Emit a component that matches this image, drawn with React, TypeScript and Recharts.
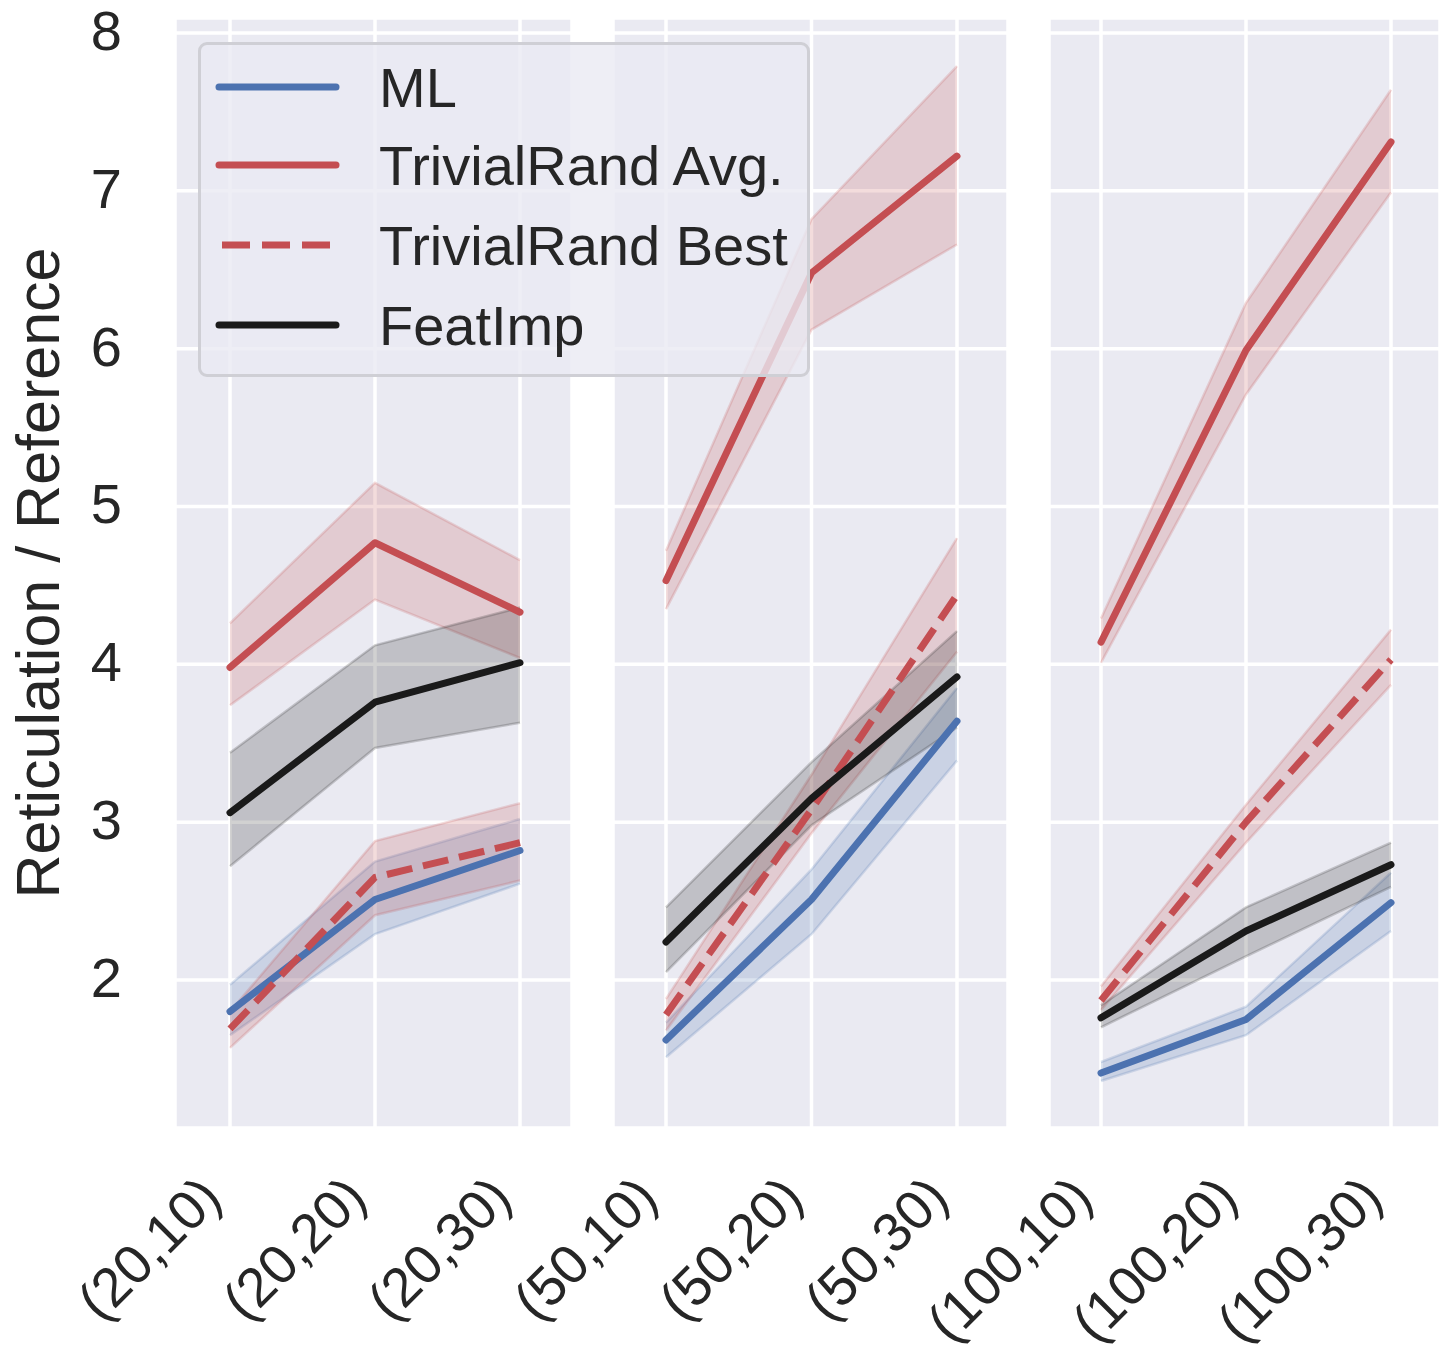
import React from 'react';
import { ComposedChart, Line, Area, XAxis, YAxis, CartesianGrid, Label } from 'recharts';

// categories, one array per panel
const GROUP_20 = ['(20,10)', '(20,20)', '(20,30)'];
const GROUP_50 = ['(50,10)', '(50,20)', '(50,30)'];
const GROUP_100 = ['(100,10)', '(100,20)', '(100,30)'];

// series values, 9 points each (3 panels x 3)
const ML_MEAN = [1.80, 2.51, 2.82, 1.62, 2.51, 3.64, 1.41, 1.75, 2.49];
const ML_LO = [1.65, 2.29, 2.61, 1.51, 2.29, 3.39, 1.36, 1.65, 2.31];
const ML_HI = [1.97, 2.75, 3.02, 1.73, 2.70, 3.85, 1.48, 1.83, 2.68];

const AVG_MEAN = [3.98, 4.77, 4.33, 4.53, 6.48, 7.22, 4.14, 5.99, 7.31];
const AVG_LO = [3.74, 4.41, 4.04, 4.35, 6.12, 6.66, 4.01, 5.71, 6.99];
const AVG_HI = [4.26, 5.15, 4.66, 4.72, 6.82, 7.79, 4.29, 6.29, 7.64];

const BEST_MEAN = [1.69, 2.65, 2.87, 1.78, 3.08, 4.44, 1.87, 3.00, 4.03];
const BEST_LO = [1.57, 2.41, 2.63, 1.68, 2.93, 4.08, 1.81, 2.87, 3.87];
const BEST_HI = [1.80, 2.88, 3.12, 1.88, 3.30, 4.80, 1.96, 3.11, 4.22];

const FEAT_MEAN = [3.06, 3.76, 4.01, 2.24, 3.15, 3.92, 1.76, 2.31, 2.73];
const FEAT_LO = [2.72, 3.47, 3.63, 2.05, 2.98, 3.60, 1.70, 2.15, 2.59];
const FEAT_HI = [3.44, 4.12, 4.36, 2.46, 3.38, 4.21, 1.84, 2.46, 2.87];

const Y_TICKS = [2, 3, 4, 5, 6, 7, 8];

const FONT = '"Liberation Sans", Arial, sans-serif';
const TEXT = '#262626';
const FULL_W = 1442;
const FULL_H = 1359;

const SERIES = [
  { key: 'ml', name: 'ML', color: '#4c72b0', dashed: false, mean: ML_MEAN, lo: ML_LO, hi: ML_HI },
  { key: 'avg', name: 'TrivialRand Avg.', color: '#c44e52', dashed: false, mean: AVG_MEAN, lo: AVG_LO, hi: AVG_HI },
  { key: 'best', name: 'TrivialRand Best', color: '#c44e52', dashed: true, mean: BEST_MEAN, lo: BEST_LO, hi: BEST_HI },
  { key: 'feat', name: 'FeatImp', color: '#1a1a1a', dashed: false, mean: FEAT_MEAN, lo: FEAT_LO, hi: FEAT_HI },
];

function buildRows(labels: string[], offset: number) {
  return labels.map((label, i) => {
    const row: any = { label };
    SERIES.forEach((s) => {
      row[s.key] = s.mean[offset + i];
      row[s.key + 'Band'] = [s.lo[offset + i], s.hi[offset + i]];
    });
    return row;
  });
}

// every panel is a full-page svg; margins carve out its own plot box
const PANELS = [
  { rows: buildRows(GROUP_20, 0), left: 0, right: 572, yAxis: true, pad: { left: 55, right: 52 } },
  { rows: buildRows(GROUP_50, 3), left: 613, right: 1008, yAxis: false, pad: { left: 53, right: 51 } },
  { rows: buildRows(GROUP_100, 6), left: 1049, right: 1440, yAxis: false, pad: { left: 52, right: 49 } },
];

const XTick = (props: any) => {
  const { x, y, payload } = props;
  return (
    <g transform={`translate(${x - 6},${y + 70})`}>
      <text x={0} y={0} transform="rotate(-45)" textAnchor="end" fill={TEXT} fontSize={55} fontFamily={FONT}>
        {payload.value}
      </text>
    </g>
  );
};

const YLabel = (props: any) => {
  const { viewBox } = props;
  const cy = viewBox.y + viewBox.height / 2;
  return (
    <text x={59} y={cy} transform={`rotate(-90, 59, ${cy})`} textAnchor="middle" fill={TEXT} fontSize={61} fontFamily={FONT}>
      Reticulation / Reference
    </text>
  );
};

function Panel({ panel }: { panel: typeof PANELS[number] }) {
  const leftMargin = panel.yAxis ? 0 : panel.left;
  return (
    <div style={{ position: 'absolute', left: 0, top: 0 }}>
      <ComposedChart
        width={FULL_W}
        height={FULL_H}
        data={panel.rows}
        margin={{ top: 18, right: FULL_W - panel.right, bottom: 0, left: leftMargin }}
      >
        <CartesianGrid fill="#eaeaf2" stroke="#ffffff" strokeWidth={3.5} />
        <XAxis
          dataKey="label"
          scale="point"
          padding={panel.pad}
          height={231}
          axisLine={false}
          tickLine={false}
          tickSize={0}
          tick={<XTick />}
          interval={0}
        />
        {panel.yAxis ? (
          <YAxis
            type="number"
            domain={[1.062, 8.095]}
            ticks={Y_TICKS}
            allowDataOverflow
            width={175}
            axisLine={false}
            tickLine={false}
            tickSize={0}
            tickMargin={53}
            tick={{ fontSize: 56, fill: TEXT, fontFamily: FONT, dy: -3 }}
          >
            <Label content={<YLabel />} />
          </YAxis>
        ) : (
          <YAxis type="number" domain={[1.062, 8.095]} ticks={Y_TICKS} allowDataOverflow hide />
        )}
        {SERIES.map((s) => (
          <Area
            key={s.key + 'Band'}
            type="linear"
            dataKey={s.key + 'Band'}
            fill={s.color}
            fillOpacity={0.2}
            stroke={s.color}
            strokeOpacity={0.2}
            strokeWidth={2.5}
            dot={false}
            activeDot={false}
            isAnimationActive={false}
          />
        ))}
        {SERIES.map((s) => (
          <Line
            key={s.key}
            type="linear"
            dataKey={s.key}
            stroke={s.color}
            strokeWidth={7}
            strokeDasharray={s.dashed ? '26 11' : undefined}
            strokeLinecap={s.dashed ? 'butt' : 'round'}
            strokeLinejoin="round"
            dot={false}
            activeDot={false}
            isAnimationActive={false}
          />
        ))}
      </ComposedChart>
    </div>
  );
}

function LegendBox() {
  const rowY = [46, 124, 204, 284];
  return (
    <div
      style={{
        position: 'absolute',
        left: 198,
        top: 42,
        width: 612,
        height: 335,
        boxSizing: 'border-box',
        border: '3px solid #cfcfd5',
        borderRadius: 9,
        background: 'rgba(234,234,242,0.8)',
        zIndex: 10,
      }}
    >
      <svg width={606} height={329} style={{ position: 'absolute', left: 0, top: 0 }}>
        {SERIES.map((s, i) => (
          <g key={s.key}>
            <line
              x1={s.dashed ? 21 : 18}
              x2={s.dashed ? 133 : 135}
              y1={rowY[i] - 4}
              y2={rowY[i] - 4}
              stroke={s.color}
              strokeWidth={7}
              strokeLinecap={s.dashed ? 'butt' : 'round'}
              strokeDasharray={s.dashed ? '28 12' : undefined}
            />
            <text x={178} y={rowY[i] + 16} fontSize={56} fill={TEXT} fontFamily={FONT}>
              {s.name}
            </text>
          </g>
        ))}
      </svg>
    </div>
  );
}

export default function App() {
  return (
    <div style={{ position: 'absolute', left: 0, top: 0, width: FULL_W, height: FULL_H, background: '#ffffff' }}>
      {PANELS.map((p, i) => (
        <Panel key={i} panel={p} />
      ))}
      <LegendBox />
    </div>
  );
}
